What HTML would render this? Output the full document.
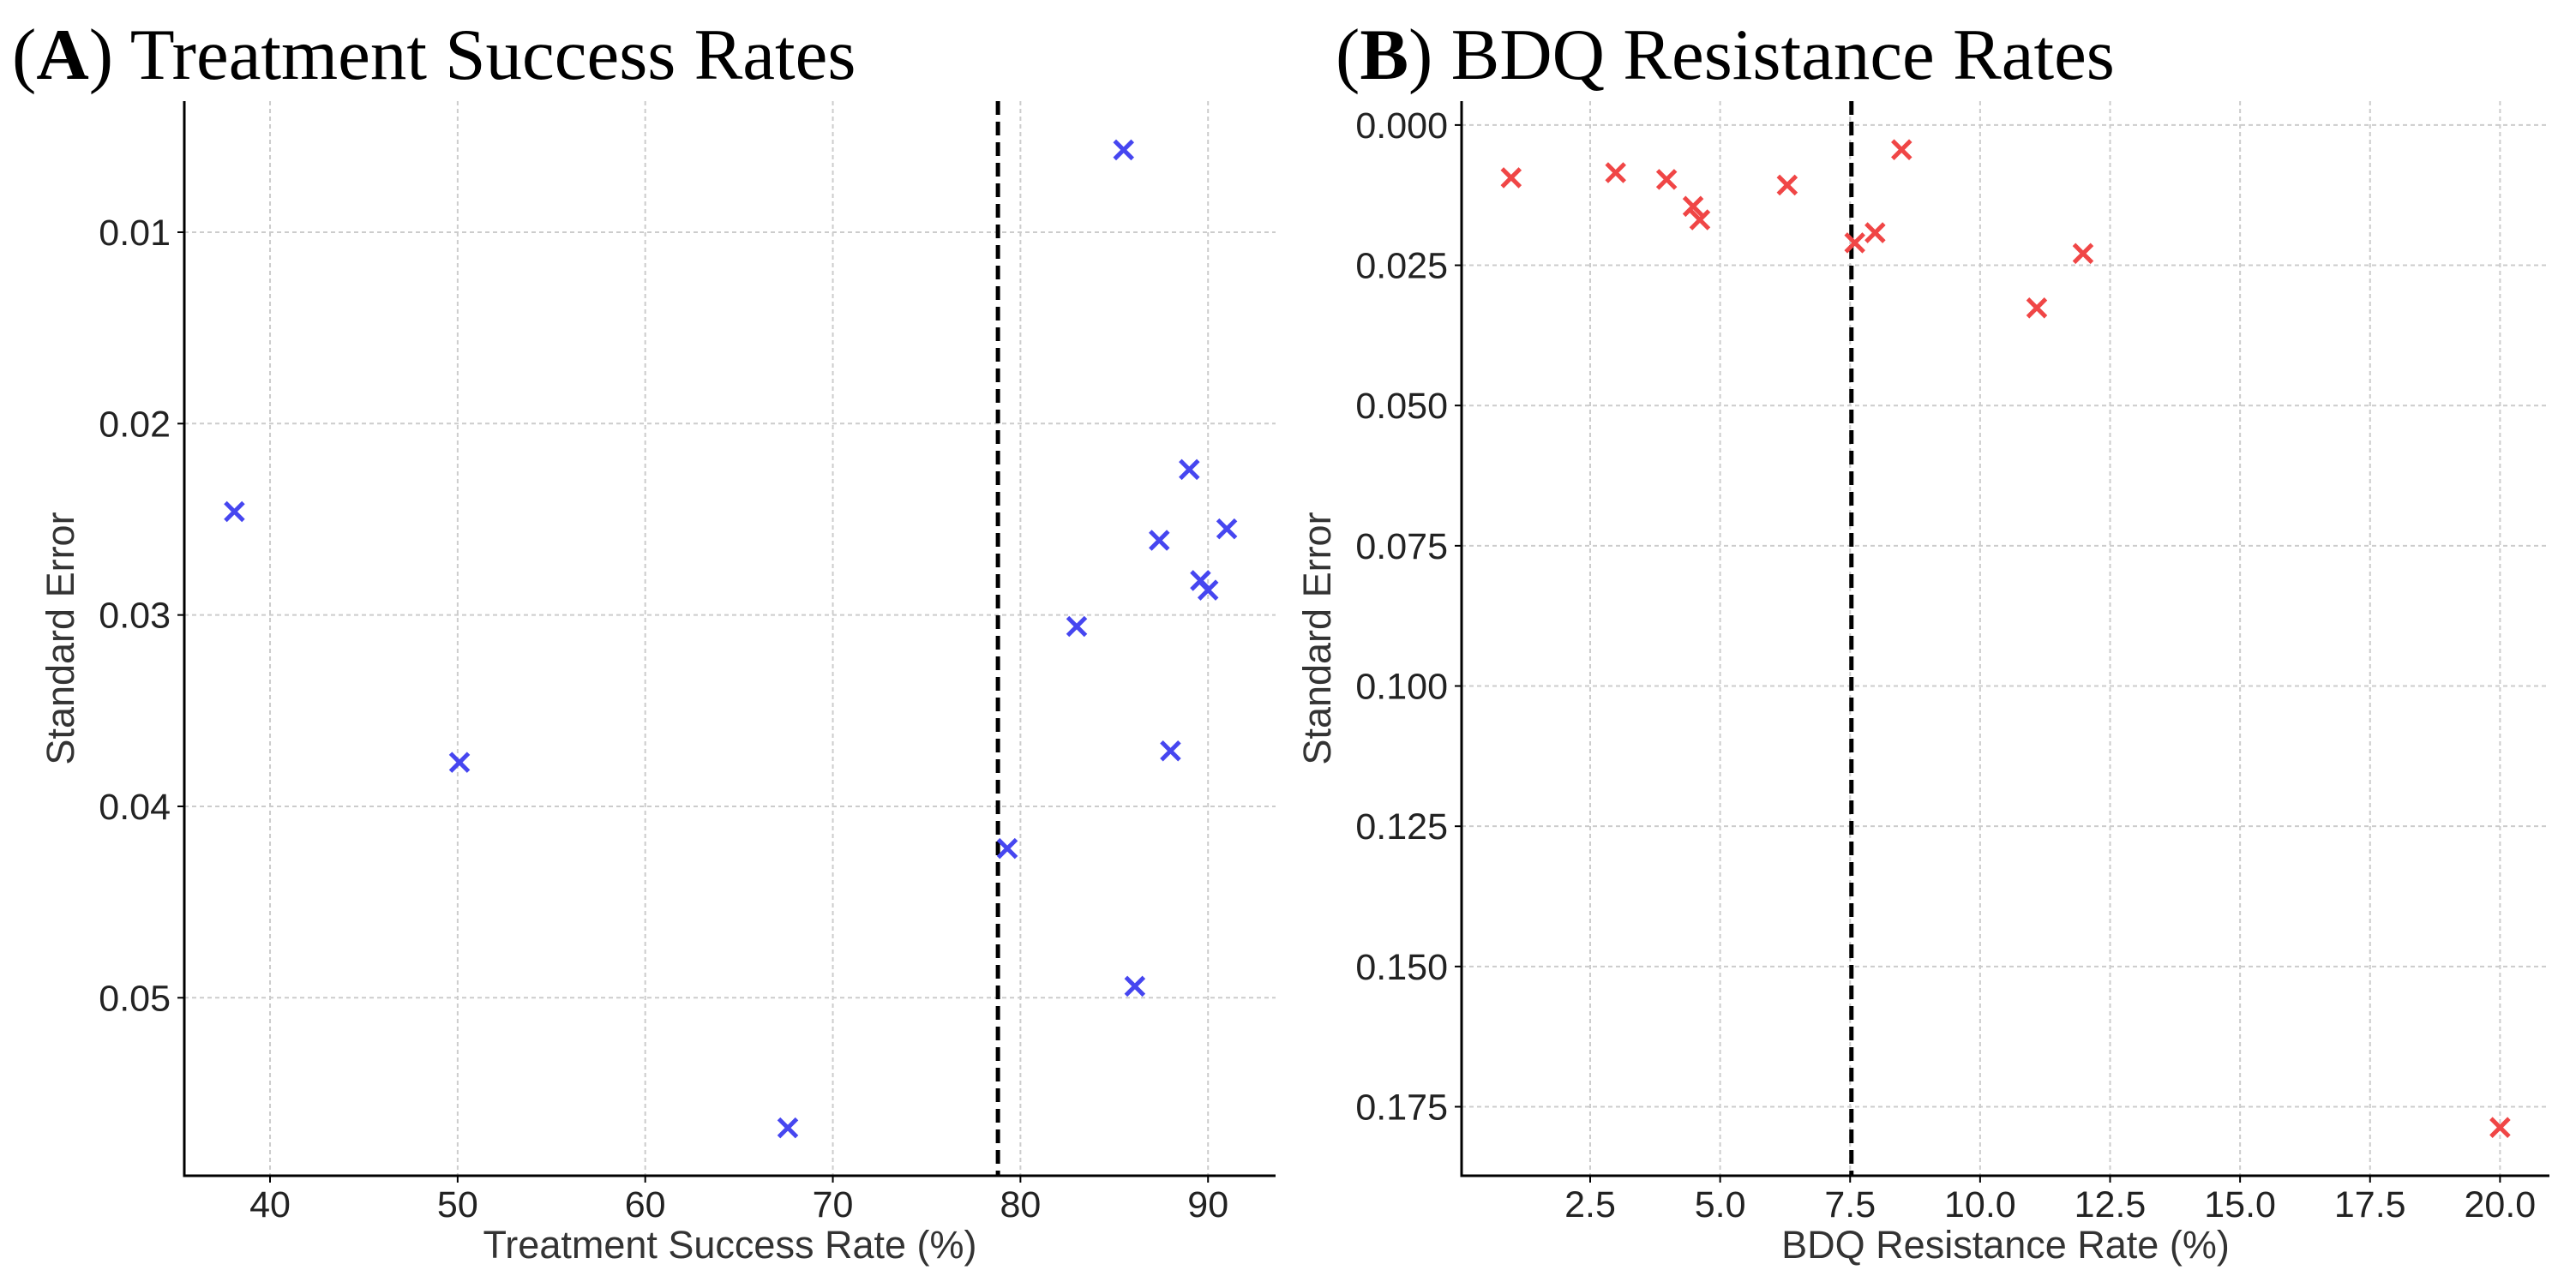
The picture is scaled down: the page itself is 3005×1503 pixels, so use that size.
<!DOCTYPE html>
<html><head><meta charset="utf-8"><style>
body{margin:0;background:#fff}
svg{display:block}
text{font-family:"Liberation Sans","DejaVu Sans",sans-serif}
.title{font-family:"Liberation Serif",serif;font-size:85px;fill:#000}
.tick{font-size:43px;fill:#222}
.axt{font-size:45px;fill:#333}
</style></head><body>
<svg id="fig" width="3005" height="1503" viewBox="0 0 3005 1503">
<text class="title" x="14" y="92">(<tspan font-weight="bold">A</tspan>) Treatment Success Rates</text>
<text class="title" x="1558" y="92">(<tspan font-weight="bold">B</tspan>) BDQ Resistance Rates</text>
<g id="pa"></g>
<g id="pb"></g>
</svg>
<script>
const successRates = [85.5, 38.1, 50.1, 67.6, 89.0, 91.0, 87.4, 89.6, 90.0, 83.0, 88.0, 79.3, 86.1];
const successSE = [0.0057, 0.0246, 0.0377, 0.0568, 0.0224, 0.0255, 0.0261, 0.0282, 0.0287, 0.0306, 0.0371, 0.0422, 0.0494];
const successXTicks = [40, 50, 60, 70, 80, 90];
const successYTicks = [0.01, 0.02, 0.03, 0.04, 0.05];
const successRef = 78.8;
const bdqRates = [0.98, 2.99, 3.97, 4.48, 4.61, 6.29, 7.59, 7.98, 8.49, 11.09, 11.98, 20.0];
const bdqSE = [0.0094, 0.0085, 0.0097, 0.0145, 0.0169, 0.0107, 0.0210, 0.0192, 0.0044, 0.0326, 0.0229, 0.1787];
const bdqXTicks = [2.5, 5.0, 7.5, 10.0, 12.5, 15.0, 17.5, 20.0];
const bdqYTicks = [0.000, 0.025, 0.050, 0.075, 0.100, 0.125, 0.150, 0.175];
const bdqRef = 7.525;

const NS = "http://www.w3.org/2000/svg";
function mk(parent, tag, attrs) {
  const e = document.createElementNS(NS, tag);
  for (const k in attrs) e.setAttribute(k, attrs[k]);
  parent.appendChild(e);
  return e;
}
function panel(g, o) {
  const sx = v => o.L + (v - o.x0) / (o.x1 - o.x0) * (o.R - o.L);
  const sy = v => o.T + (v - o.y0) / (o.y1 - o.y0) * (o.B - o.T);
  o.xt.forEach(t => {
    const l = mk(g, 'line', {x1: sx(t), x2: sx(t), y1: o.T, y2: o.B, stroke: '#ccc', 'stroke-width': 2, 'stroke-dasharray': '5,4'});
    
    
    const tx = mk(g, 'text', {x: sx(t), y: o.B + 48, 'text-anchor': 'middle', class: 'tick'});
    tx.textContent = t.toFixed(o.xd);
    
    
    mk(g, 'line', {x1: sx(t), x2: sx(t), y1: o.B, y2: o.B + 8, stroke: '#000', 'stroke-width': 2});
  });
  o.yt.forEach(t => {
    const l = mk(g, 'line', {x1: o.L, x2: o.R, y1: sy(t), y2: sy(t), stroke: '#ccc', 'stroke-width': 2, 'stroke-dasharray': '5,4'});
    
    
    const tx = mk(g, 'text', {x: o.L - 16, y: sy(t) + 15, 'text-anchor': 'end', class: 'tick'});
    tx.textContent = t.toFixed(o.yd);
    
    
    mk(g, 'line', {x1: o.L - 8, x2: o.L, y1: sy(t), y2: sy(t), stroke: '#000', 'stroke-width': 2});
  });
  const ax = mk(g, 'path', {d: `M${o.L},${o.T} V${o.B} H${o.R}`, fill: 'none', stroke: '#000', 'stroke-width': 3});
  
  
  const ref = mk(g, 'line', {x1: sx(o.ref), x2: sx(o.ref), y1: o.T, y2: o.B, stroke: '#000', 'stroke-width': 5, 'stroke-dasharray': '16,8'});
  
  
  o.xs.forEach((v, i) => {
    const cx = sx(v), cy = sy(o.ys[i]), r = 10.5;
    const p = mk(g, 'path', {d: `M${cx-r},${cy-r}L${cx+r},${cy+r}M${cx-r},${cy+r}L${cx+r},${cy-r}`, stroke: o.color, 'stroke-width': 5, fill: 'none'});
    
    
  });
  const xl = mk(g, 'text', {x: (o.L + o.R) / 2, y: o.B + 96, 'text-anchor': 'middle', class: 'axt'});
  xl.textContent = o.xlabel;
  
  
  const yl = mk(g, 'text', {x: 0, y: 0, 'text-anchor': 'middle', class: 'axt', transform: `translate(${o.ylx},${(o.T + o.B) / 2}) rotate(-90)`});
  yl.textContent = 'Standard Error';
  
  
}
panel(document.getElementById('pa'), {L: 215, R: 1488, T: 118, B: 1372, x0: 35.43, x1: 93.6, y0: 0.00315, y1: 0.0593,
  xt: successXTicks, yt: successYTicks, xd: 0, yd: 2, xs: successRates, ys: successSE, ref: successRef,
  color: '#4646f0', xlabel: 'Treatment Success Rate (%)', ylx: 86});
panel(document.getElementById('pb'), {L: 1705, R: 2974, T: 118, B: 1372, x0: 0.027, x1: 20.95, y0: -0.00426, y1: 0.1873,
  xt: bdqXTicks, yt: bdqYTicks, xd: 1, yd: 3, xs: bdqRates, ys: bdqSE, ref: bdqRef,
  color: '#f04646', xlabel: 'BDQ Resistance Rate (%)', ylx: 1552});
</script>
</body></html>
